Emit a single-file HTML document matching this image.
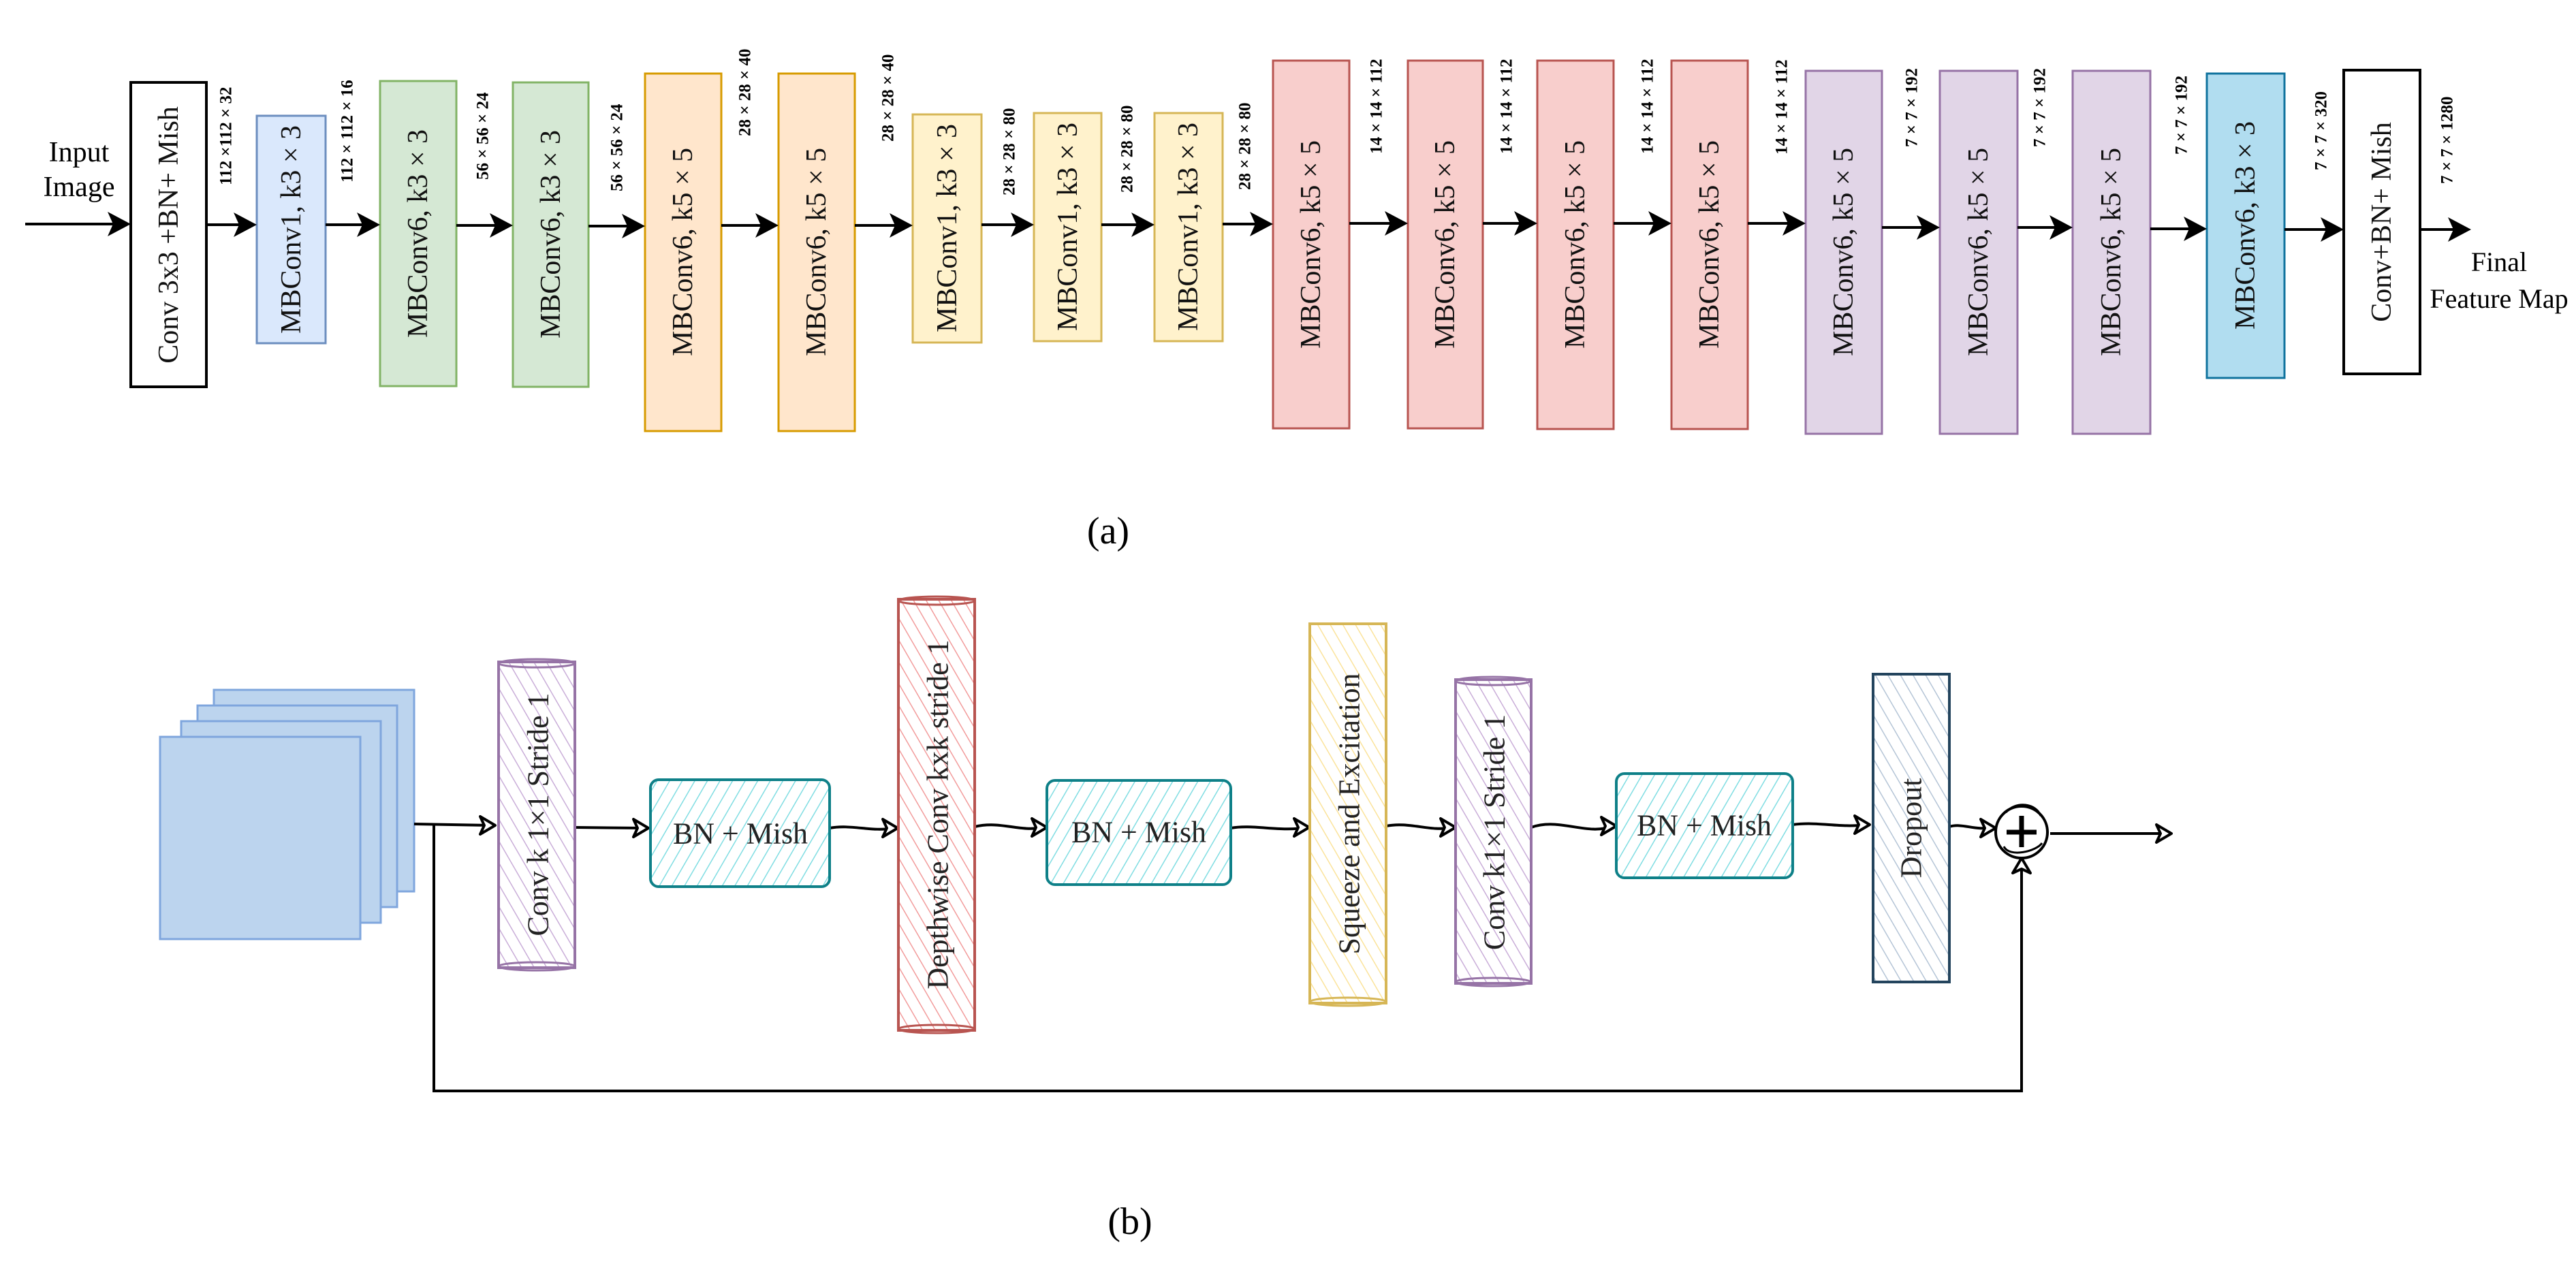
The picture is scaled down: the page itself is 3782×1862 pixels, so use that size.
<!DOCTYPE html>
<html><head><meta charset="utf-8"><style>html,body{margin:0;padding:0;background:#fff}svg{display:block}</style></head>
<body>
<svg xmlns="http://www.w3.org/2000/svg" width="3782" height="1862" viewBox="0 0 3782 1862" font-family="'Liberation Serif', serif">
<defs>
<pattern id="hp" patternUnits="userSpaceOnUse" width="16" height="16" patternTransform="rotate(-30)"><line x1="0" y1="0" x2="0" y2="16" stroke="#c9add8" stroke-width="3"/></pattern>
<pattern id="hr" patternUnits="userSpaceOnUse" width="16" height="16" patternTransform="rotate(-30)"><line x1="0" y1="0" x2="0" y2="16" stroke="#f29b9b" stroke-width="3"/></pattern>
<pattern id="hy" patternUnits="userSpaceOnUse" width="16" height="16" patternTransform="rotate(-30)"><line x1="0" y1="0" x2="0" y2="16" stroke="#fbe39a" stroke-width="3"/></pattern>
<pattern id="hd" patternUnits="userSpaceOnUse" width="16" height="16" patternTransform="rotate(-30)"><line x1="0" y1="0" x2="0" y2="16" stroke="#b4c4d6" stroke-width="3"/></pattern>
<pattern id="ht" patternUnits="userSpaceOnUse" width="16" height="16" patternTransform="rotate(30)"><line x1="0" y1="0" x2="0" y2="16" stroke="#7fdde2" stroke-width="3"/></pattern>
</defs>

<text x="116" y="237" font-size="42" text-anchor="middle">Input</text>
<text x="116" y="288" font-size="42" text-anchor="middle">Image</text>

<g stroke-width="3">
<rect x="192" y="121" width="111" height="447" fill="#fff" stroke="#000" stroke-width="4"/>
<rect x="377" y="170" width="101" height="334" fill="#dae8fc" stroke="#6c8ebf"/>
<rect x="558" y="119" width="112" height="448" fill="#d5e8d4" stroke="#82b366"/>
<rect x="753" y="121" width="111" height="447" fill="#d5e8d4" stroke="#82b366"/>
<rect x="947" y="108" width="112" height="525" fill="#ffe6cc" stroke="#d79b00"/>
<rect x="1143" y="108" width="112" height="525" fill="#ffe6cc" stroke="#d79b00"/>
<rect x="1340" y="168" width="101" height="335" fill="#fff2cc" stroke="#d6b656"/>
<rect x="1518" y="166" width="99" height="335" fill="#fff2cc" stroke="#d6b656"/>
<rect x="1695" y="166" width="100" height="335" fill="#fff2cc" stroke="#d6b656"/>
<rect x="1869" y="89" width="112" height="540" fill="#f8cecc" stroke="#b85450"/>
<rect x="2067" y="89" width="110" height="540" fill="#f8cecc" stroke="#b85450"/>
<rect x="2257" y="89" width="112" height="541" fill="#f8cecc" stroke="#b85450"/>
<rect x="2454" y="89" width="112" height="541" fill="#f8cecc" stroke="#b85450"/>
<rect x="2651" y="104" width="112" height="533" fill="#e1d5e7" stroke="#9673a6"/>
<rect x="2848" y="104" width="114" height="533" fill="#e1d5e7" stroke="#9673a6"/>
<rect x="3043" y="104" width="114" height="533" fill="#e1d5e7" stroke="#9673a6"/>
<rect x="3240" y="108" width="114" height="447" fill="#b1ddf0" stroke="#10739e"/>
<rect x="3441" y="103" width="112" height="446" fill="#fff" stroke="#000" stroke-width="4"/>
</g>

<g font-size="42" text-anchor="middle" dominant-baseline="central" fill="#111">
<text transform="translate(248,345) rotate(-90)">Conv 3x3 +BN+ Mish</text>
<text transform="translate(428,337) rotate(-90)">MBConv1, k3 × 3</text>
<text transform="translate(614,343) rotate(-90)">MBConv6, k3 × 3</text>
<text transform="translate(809,344) rotate(-90)">MBConv6, k3 × 3</text>
<text transform="translate(1003,370) rotate(-90)">MBConv6, k5 × 5</text>
<text transform="translate(1199,370) rotate(-90)">MBConv6, k5 × 5</text>
<text transform="translate(1391,335) rotate(-90)">MBConv1, k3 × 3</text>
<text transform="translate(1568,333) rotate(-90)">MBConv1, k3 × 3</text>
<text transform="translate(1745,333) rotate(-90)">MBConv1, k3 × 3</text>
<text transform="translate(1925,359) rotate(-90)">MBConv6, k5 × 5</text>
<text transform="translate(2122,359) rotate(-90)">MBConv6, k5 × 5</text>
<text transform="translate(2313,359) rotate(-90)">MBConv6, k5 × 5</text>
<text transform="translate(2510,359) rotate(-90)">MBConv6, k5 × 5</text>
<text transform="translate(2707,370) rotate(-90)">MBConv6, k5 × 5</text>
<text transform="translate(2905,370) rotate(-90)">MBConv6, k5 × 5</text>
<text transform="translate(3100,370) rotate(-90)">MBConv6, k5 × 5</text>
<text transform="translate(3297,331) rotate(-90)">MBConv6, k3 × 3</text>
<text transform="translate(3497,326) rotate(-90)">Conv+BN+ Mish</text>
</g>

<g font-size="25" font-weight="bold" dominant-baseline="central" fill="#000">
<text transform="translate(332,272) rotate(-90)">112 ×112 × 32</text>
<text transform="translate(510,268) rotate(-90)">112 × 112 × 16</text>
<text transform="translate(709,264) rotate(-90)">56 × 56 × 24</text>
<text transform="translate(906,281) rotate(-90)">56 × 56 × 24</text>
<text transform="translate(1094,200) rotate(-90)">28 × 28 × 40</text>
<text transform="translate(1304,208) rotate(-90)">28 × 28 × 40</text>
<text transform="translate(1482,287) rotate(-90)">28 × 28 × 80</text>
<text transform="translate(1655,283) rotate(-90)">28 × 28 × 80</text>
<text transform="translate(1828,279) rotate(-90)">28 × 28 × 80</text>
<text transform="translate(2021,226) rotate(-90)">14 × 14 × 112</text>
<text transform="translate(2212,226) rotate(-90)">14 × 14 × 112</text>
<text transform="translate(2419,226) rotate(-90)">14 × 14 × 112</text>
<text transform="translate(2616,227) rotate(-90)">14 × 14 × 112</text>
<text transform="translate(2807,216) rotate(-90)">7 × 7 × 192</text>
<text transform="translate(2995,216) rotate(-90)">7 × 7 × 192</text>
<text transform="translate(3203,227) rotate(-90)">7 × 7 × 192</text>
<text transform="translate(3408,250) rotate(-90)">7 × 7 × 320</text>
<text transform="translate(3593,270) rotate(-90)">7 × 7 × 1280</text>
</g>

<g stroke="#000" stroke-width="4">
<line x1="37" y1="329" x2="170" y2="329"/>
<line x1="303" y1="330" x2="360" y2="330"/>
<line x1="478" y1="330" x2="540" y2="330"/>
<line x1="670" y1="331" x2="736" y2="331"/>
<line x1="864" y1="332" x2="930" y2="332"/>
<line x1="1059" y1="331" x2="1126" y2="331"/>
<line x1="1255" y1="331" x2="1323" y2="331"/>
<line x1="1441" y1="330" x2="1501" y2="330"/>
<line x1="1617" y1="330" x2="1678" y2="330"/>
<line x1="1795" y1="329" x2="1852" y2="329"/>
<line x1="1981" y1="328" x2="2050" y2="328"/>
<line x1="2177" y1="328" x2="2240" y2="328"/>
<line x1="2369" y1="328" x2="2437" y2="328"/>
<line x1="2566" y1="328" x2="2634" y2="328"/>
<line x1="2763" y1="334" x2="2831" y2="334"/>
<line x1="2962" y1="334" x2="3026" y2="334"/>
<line x1="3157" y1="336" x2="3223" y2="336"/>
<line x1="3354" y1="337" x2="3424" y2="337"/>
<line x1="3553" y1="337" x2="3611" y2="337"/>
</g>
<g fill="#000">
<path d="M192 329 L158 311 L166 329 L158 347 Z"/>
<path d="M377 330 L343 312 L351 330 L343 348 Z"/>
<path d="M558 330 L524 312 L532 330 L524 348 Z"/>
<path d="M753 331 L719 313 L727 331 L719 349 Z"/>
<path d="M947 332 L913 314 L921 332 L913 350 Z"/>
<path d="M1143 331 L1109 313 L1117 331 L1109 349 Z"/>
<path d="M1340 331 L1306 313 L1314 331 L1306 349 Z"/>
<path d="M1518 330 L1484 312 L1492 330 L1484 348 Z"/>
<path d="M1695 330 L1661 312 L1669 330 L1661 348 Z"/>
<path d="M1869 329 L1835 311 L1843 329 L1835 347 Z"/>
<path d="M2067 328 L2033 310 L2041 328 L2033 346 Z"/>
<path d="M2257 328 L2223 310 L2231 328 L2223 346 Z"/>
<path d="M2454 328 L2420 310 L2428 328 L2420 346 Z"/>
<path d="M2651 328 L2617 310 L2625 328 L2617 346 Z"/>
<path d="M2848 334 L2814 316 L2822 334 L2814 352 Z"/>
<path d="M3043 334 L3009 316 L3017 334 L3009 352 Z"/>
<path d="M3240 336 L3206 318 L3214 336 L3206 354 Z"/>
<path d="M3441 337 L3407 319 L3415 337 L3407 355 Z"/>
<path d="M3628 337 L3594 319 L3602 337 L3594 355 Z"/>
</g>
<text x="3669" y="398" font-size="40" text-anchor="middle">Final</text>
<text x="3669" y="452" font-size="40" text-anchor="middle">Feature Map</text>

<text x="1627" y="798" font-size="56" text-anchor="middle">(a)</text>

<g fill="#bcd4ee" stroke="#7fa6dd" stroke-width="3">
<rect x="314" y="1013" width="294" height="296"/>
<rect x="290" y="1036" width="293" height="296"/>
<rect x="266" y="1059" width="293" height="296"/>
<rect x="235" y="1082" width="294" height="297"/>
</g>

<g fill="none" stroke="#000" stroke-width="4">
<path d="M608 1210 L720 1212"/>
<path d="M637 1210 L637 1602 L2968 1602 L2968 1270"/>
<path d="M844 1215 L945 1216"/>
<path d="M1218 1216 C1250 1210 1280 1222 1312 1216"/>
<path d="M1431 1214 C1470 1205 1495 1222 1532 1215"/>
<path d="M1807 1216 C1840 1210 1880 1222 1918 1215"/>
<path d="M2035 1213 C2070 1206 2100 1222 2132 1215"/>
<path d="M2248 1215 C2290 1200 2330 1228 2368 1213"/>
<path d="M2632 1211 C2670 1206 2700 1216 2740 1211"/>
<path d="M2862 1214 C2880 1208 2900 1220 2922 1215"/>
<path d="M3010 1224 L3185 1224"/>
</g>
<g fill="#fff" stroke="#000" stroke-width="4" stroke-linejoin="round">
<path d="M727 1212 L705 1199 L711 1212 L705 1225 Z"/>
<path d="M952 1216 L930 1203 L936 1216 L930 1229 Z"/>
<path d="M1318 1216 L1296 1203 L1302 1216 L1296 1229 Z"/>
<path d="M1537 1215 L1515 1202 L1521 1215 L1515 1228 Z"/>
<path d="M1922 1215 L1900 1202 L1906 1215 L1900 1228 Z"/>
<path d="M2137 1215 L2115 1202 L2121 1215 L2115 1228 Z"/>
<path d="M2373 1213 L2351 1200 L2357 1213 L2351 1226 Z"/>
<path d="M2745 1211 L2723 1198 L2729 1211 L2723 1224 Z"/>
<path d="M2930 1216 L2908 1203 L2914 1216 L2908 1229 Z"/>
<path d="M3188 1224 L3166 1211 L3172 1224 L3166 1237 Z"/>
<path d="M2968 1260 L2955 1282 L2968 1276 L2981 1282 Z"/>
</g>

<g stroke-width="4">
<rect x="732" y="972" width="112" height="449" fill="url(#hp)" stroke="#9673a6"/>
<ellipse cx="788" cy="974" rx="56" ry="6" fill="none" stroke="#9673a6" stroke-width="3"/>
<ellipse cx="788" cy="1419" rx="56" ry="6" fill="none" stroke="#9673a6" stroke-width="3"/>

<rect x="1319" y="880" width="112" height="633" fill="url(#hr)" stroke="#b85450"/>
<ellipse cx="1375" cy="882" rx="56" ry="6" fill="none" stroke="#b85450" stroke-width="3"/>
<ellipse cx="1375" cy="1511" rx="56" ry="6" fill="none" stroke="#b85450" stroke-width="3"/>

<rect x="1923" y="916" width="112" height="557" fill="url(#hy)" stroke="#d6b656"/>
<ellipse cx="1979" cy="1471" rx="56" ry="6" fill="none" stroke="#d6b656" stroke-width="3"/>

<rect x="2137" y="998" width="111" height="446" fill="url(#hp)" stroke="#9673a6"/>
<ellipse cx="2192" cy="1000" rx="55" ry="6" fill="none" stroke="#9673a6" stroke-width="3"/>
<ellipse cx="2192" cy="1442" rx="55" ry="6" fill="none" stroke="#9673a6" stroke-width="3"/>

<rect x="2750" y="990" width="112" height="452" fill="url(#hd)" stroke="#23445d"/>

<rect x="955" y="1145" width="263" height="157" rx="12" fill="url(#ht)" stroke="#0e8088"/>
<rect x="1537" y="1146" width="270" height="153" rx="12" fill="url(#ht)" stroke="#0e8088"/>
<rect x="2373" y="1136" width="259" height="153" rx="12" fill="url(#ht)" stroke="#0e8088"/>
</g>

<g font-size="44" text-anchor="middle" dominant-baseline="central" fill="#222">
<text transform="translate(790,1196) rotate(-90)">Conv k 1×1 Stride 1</text>
<text transform="translate(1377,1196) rotate(-90)">Depthwise Conv kxk stride 1</text>
<text transform="translate(1981,1195) rotate(-90)">Squeeze and Excitation</text>
<text transform="translate(2194,1222) rotate(-90)">Conv k1×1 Stride 1</text>
<text transform="translate(2806,1216) rotate(-90)">Dropout</text>
<text x="1087" y="1224" textLength="198" lengthAdjust="spacingAndGlyphs">BN + Mish</text>
<text x="1672" y="1222" textLength="198" lengthAdjust="spacingAndGlyphs">BN + Mish</text>
<text x="2502" y="1212" textLength="198" lengthAdjust="spacingAndGlyphs">BN + Mish</text>
</g>

<circle cx="2968" cy="1222" r="38" fill="#fff" stroke="#000" stroke-width="4"/>
<path d="M2942 1243 C2950 1260 2990 1250 2998 1238" fill="none" stroke="#000" stroke-width="3"/>
<path d="M2945 1193 C2960 1175 2990 1180 2996 1198" fill="none" stroke="#000" stroke-width="3"/>
<line x1="2946" y1="1222" x2="2990" y2="1222" stroke="#000" stroke-width="7"/>
<line x1="2968" y1="1198" x2="2968" y2="1244" stroke="#000" stroke-width="7"/>

<text x="1659" y="1812" font-size="56" text-anchor="middle">(b)</text>
</svg>
</body></html>
